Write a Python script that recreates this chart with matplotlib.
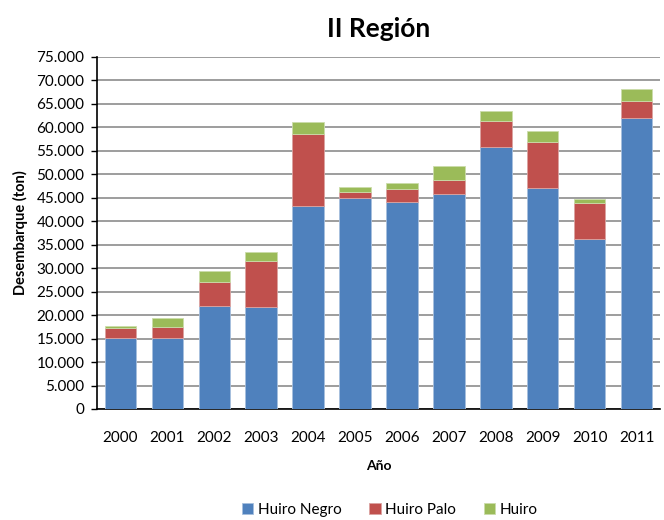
import matplotlib.pyplot as plt
import numpy as np
from matplotlib.ticker import FuncFormatter

plt.rcParams['font.family'] = ['Lato', 'DejaVu Sans']

years = ['2000', '2001', '2002', '2003', '2004', '2005',
         '2006', '2007', '2008', '2009', '2010', '2011']
# valores en toneladas
huiro_negro = [15100, 15100, 21900, 21700, 43300, 44900,
               44200, 45700, 55900, 47000, 36300, 62000]
huiro_palo = [2100, 2400, 5200, 9900, 15300, 1400,
              2700, 3100, 5500, 9900, 7600, 3700]
huiro = [400, 1800, 2200, 1900, 2500, 1000,
         1200, 2900, 2100, 2400, 800, 2500]

blue = '#4F81BD'
red = '#C0504D'
green = '#9BBB59'

fig = plt.figure(figsize=(6.64, 5.2), dpi=100)
ax = fig.add_axes([0.146, 0.2135, 0.848, 0.677])

x = np.arange(len(years))
w = 0.67
neg = np.array(huiro_negro)
pal = np.array(huiro_palo)
hui = np.array(huiro)

ax.bar(x, neg, w, color=blue, edgecolor='#a7c0de', linewidth=0.6, label='Huiro Negro', zorder=3)
ax.bar(x, pal, w, bottom=neg, color=red, edgecolor='#dba3a1', linewidth=0.6, label='Huiro Palo', zorder=3)
ax.bar(x, hui, w, bottom=neg + pal, color=green, edgecolor='#cbdcaa', linewidth=0.6, label='Huiro', zorder=3)

ax.set_xlim(-0.5, len(years) - 0.5)
ax.set_ylim(0, 75000)
ax.set_yticks(np.arange(0, 75001, 5000))
ax.yaxis.set_major_formatter(FuncFormatter(lambda v, p: f'{int(v):,}'.replace(',', '.')))
ax.set_xticks(x)
ax.set_xticklabels(years)
ax.tick_params(axis='x', length=0, pad=16, labelsize=11)
ax.tick_params(axis='y', length=4, width=1, labelsize=11, direction='out', pad=5)

ax.grid(axis='y', color='#8c8c8c', linewidth=1.2, zorder=0)
for s in ['top', 'right']:
    ax.spines[s].set_visible(False)
ax.spines['left'].set_linewidth(1.2)
ax.spines['bottom'].set_linewidth(1.2)

ax.set_title('II Región', fontsize=19, fontweight='bold', pad=14)
ax.set_ylabel('Desembarque (ton)', fontsize=10.5, fontweight='bold', labelpad=6)
ax.set_xlabel('Año', fontsize=10, fontweight='bold', labelpad=11)

ax.legend(loc='lower center', bbox_to_anchor=(0.52, -0.345), ncol=3, frameon=False,
          fontsize=11, handlelength=0.75, handleheight=0.75, handletextpad=0.3, columnspacing=1.8)

fig.savefig('out.png', dpi=100)
